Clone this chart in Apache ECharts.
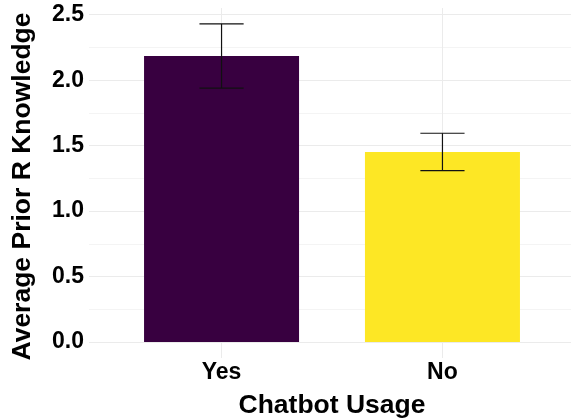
<!DOCTYPE html>
<html>
<head>
<meta charset="utf-8">
<script src="https://cdn.jsdelivr.net/npm/echarts@6/dist/echarts.min.js"></script>
<style>html,body{margin:0;padding:0;background:#fff}#c{width:571px;height:420px}</style>
</head>
<body>
<div id="c"></div>
<script>
const categories = ['Yes', 'No'];
const means = [2.185, 1.452];
const errLow = [1.940, 1.310];
const errHigh = [2.430, 1.595];
const barColors = ['#380040', '#FDE725'];
const yTicks = [0, 0.5, 1.0, 1.5, 2.0, 2.5];
const yMinorTicks = [0.25, 0.75, 1.25, 1.75, 2.25];

const xPos = categories.map((c, i) => i + 1);
const font = 'Liberation Sans, Arial, sans-serif';
const yMin = -0.1215, yMax = 2.5515;

const chart = echarts.init(document.getElementById('c'), null, {renderer: 'canvas'});
chart.setOption({
  animation: false,
  backgroundColor: '#ffffff',
  grid: [{left: 89, top: 8, width: 486, height: 350, containLabel: false, outerBoundsMode: 'none'}],
  xAxis: [{
    type: 'value', min: 0.4, max: 2.6,
    axisLine: {show: false},
    axisTick: {show: false, customValues: xPos},
    splitLine: {show: true, lineStyle: {color: '#ebebeb', width: 1}},
    axisLabel: {
      customValues: xPos, margin: 3,
      formatter: v => categories[Math.round(v) - 1] || '',
      fontFamily: font, fontWeight: 'bold', fontSize: 23, color: '#000'
    },
    name: 'Chatbot Usage', nameLocation: 'middle', nameGap: 34,
    nameTextStyle: {fontFamily: font, fontWeight: 'bold', fontSize: 26.5, color: '#000'}
  }],
  yAxis: [{
    type: 'value', min: yMin, max: yMax,
    axisLine: {show: false},
    axisTick: {show: false, customValues: yTicks},
    splitLine: {show: true, lineStyle: {color: '#ebebeb', width: 1}},
    axisLabel: {
      customValues: yTicks, margin: 5,
      formatter: v => v.toFixed(1),
      fontFamily: font, fontWeight: 'bold', fontSize: 23, color: '#000'
    },
    name: 'Average Prior R Knowledge', nameLocation: 'middle', nameGap: 53,
    nameTextStyle: {fontFamily: font, fontWeight: 'bold', fontSize: 26.5, color: '#000', padding: [0, 7, 0, 0]}
  }, {
    type: 'value', min: yMin, max: yMax, show: true,
    axisLine: {show: false},
    axisTick: {show: false, customValues: yMinorTicks},
    axisLabel: {show: false, customValues: yMinorTicks},
    splitLine: {show: true, lineStyle: {color: '#f4f4f4', width: 1}}
  }],
  series: [{
    type: 'bar', xAxisIndex: 0, yAxisIndex: 0,
    barWidth: 155, z: 3,
    data: xPos.map((x, i) => ({value: [x, means[i]], itemStyle: {color: barColors[i]}}))
  }, {
    type: 'custom', xAxisIndex: 0, yAxisIndex: 0, z: 5,
    data: xPos.map((x, i) => [x, errLow[i], errHigh[i]]),
    renderItem: function (params, api) {
      const x = api.value(0);
      const lo = api.coord([x, api.value(1)]);
      const hi = api.coord([x, api.value(2)]);
      const hw = api.size([0.2, 0])[0] / 2;
      const style = {stroke: '#111', lineWidth: 1.2};
      return {type: 'group', children: [
        {type: 'line', shape: {x1: lo[0], y1: lo[1], x2: hi[0], y2: hi[1]}, style},
        {type: 'line', shape: {x1: hi[0] - hw, y1: hi[1], x2: hi[0] + hw, y2: hi[1]}, style},
        {type: 'line', shape: {x1: lo[0] - hw, y1: lo[1], x2: lo[0] + hw, y2: lo[1]}, style}
      ]};
    }
  }]
});
</script>
</body>
</html>
